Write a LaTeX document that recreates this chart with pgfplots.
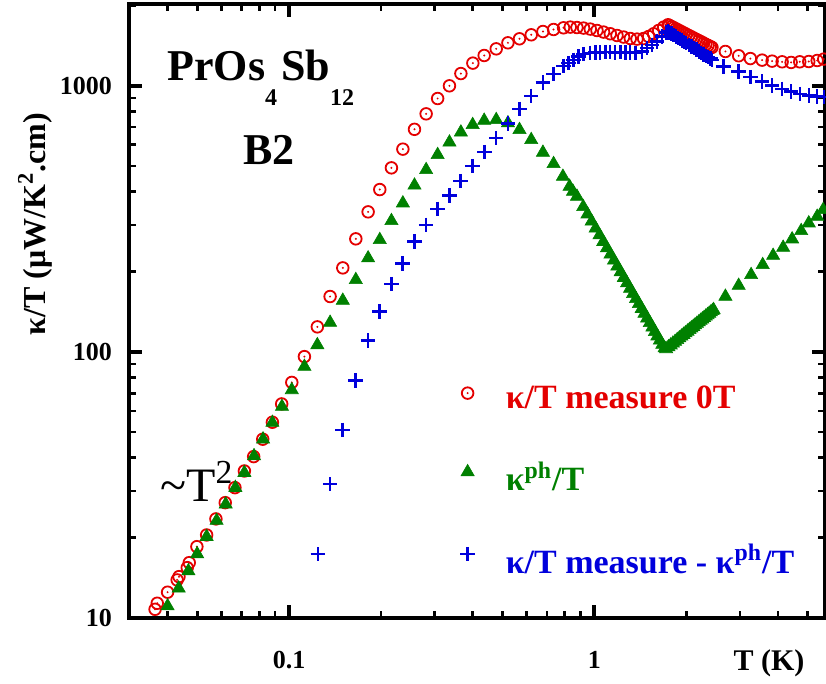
\documentclass[border=0pt]{standalone}
\usepackage{fontspec}
\setmainfont{Liberation Serif}
\usepackage{pgfplots}
\pgfplotsset{compat=1.18}
\definecolor{myred}{RGB}{228,0,0}
\definecolor{mygreen}{RGB}{0,128,0}
\definecolor{myblue}{RGB}{0,0,220}
\pgfdeclareplotmark{odot}{%
  \pgfpathcircle{\pgfpointorigin}{\pgfplotmarksize}\pgfusepathqstroke
  \pgfpathcircle{\pgfpointorigin}{0.55pt}\pgfusepathqfill}
\begin{document}
\begin{tikzpicture}
\begin{axis}[name=ax,
  xmode=log, ymode=log,
  scale only axis, width=348pt, height=307pt,
  xmin=0.0299, xmax=5.7, ymin=10, ymax=2030,
  axis line style={line width=2pt},
  tick align=inside,
  xtick={0.1,1}, xticklabels={0.1,1},
  ytick={10,100,1000}, yticklabels={10,100,1000},
  minor xtick={0.04,0.05,0.06,0.07,0.08,0.09,0.2,0.3,0.4,0.5,0.6,0.7,0.8,0.9,2,3,4,5},
  minor ytick={20,30,40,50,60,70,80,90,200,300,400,500,600,700,800,900,2000},
  major tick length=6.5pt, minor tick length=3.5pt,
  major tick style={line width=2pt, black},
  minor tick style={line width=1.4pt, black},
  /pgf/number format/assume math mode=true,
  ticklabel style={font=\bfseries\fontsize{13}{15}\selectfont},
  xticklabel style={yshift=-13pt},
  yticklabel style={xshift=-5pt},
  xlabel={T (K)},
  xlabel style={at={(rel axis cs:0.9195,-0.0733)}, anchor=center, font=\bfseries\fontsize{15}{18}\selectfont},
  ylabel={κ/T (μW/K\textsuperscript{2}.cm)},
  ylabel style={at={(rel axis cs:-0.135,0.6417)}, anchor=center, font=\bfseries\fontsize{16}{19}\selectfont},
  legend style={at={(rel axis cs:0.467,0.391)}, anchor=north west, draw=none, fill=none,
    font=\bfseries\fontsize{17}{20}\selectfont, row sep=21pt, column sep=13.5pt},
  legend cell align=left,
  legend image post style={yshift=3pt},
]
\addplot[only marks, mark=odot, mark size=2.9pt, mark options={draw=myred, fill=myred, line width=0.9pt}] table {
0.0364 10.78
0.0370 11.36
0.0400 12.50
0.0430 13.90
0.0436 14.30
0.0464 15.46
0.0471 16.14
0.0499 18.54
0.0537 20.51
0.0576 23.57
0.0618 27.13
0.0665 30.89
0.0714 35.69
0.0766 40.41
0.0820 46.97
0.0882 54.41
0.0946 63.76
0.1021 76.8
0.1123 96.0
0.1238 124.2
0.1363 161.5
0.1500 206.9
0.1655 266.0
0.1816 336.0
0.1983 407.5
0.2165 491.7
0.2360 578.1
0.2576 686.3
0.2813 784.7
0.3068 896.0
0.3354 1000
0.3656 1112
0.4001 1217
0.4358 1300
0.4773 1377
0.5213 1451
0.5689 1502
0.6215 1555
0.6788 1600
0.7357 1628
0.7931 1652
0.8343 1662
0.8775 1656
0.9224 1648
0.9703 1634
1.0206 1614
1.0727 1592
1.1284 1569
1.1868 1546
1.2475 1525
1.3122 1506
1.3804 1498
1.4507 1506
1.5068 1532
1.5647 1569
1.6249 1614
1.6875 1662
1.7444 1696
1.76 1687
1.79 1670
1.82 1654
1.85 1638
1.88 1622
1.91 1607
1.94 1592
1.97 1578
2.00 1564
2.04 1546
2.08 1528
2.12 1511
2.16 1494
2.20 1478
2.24 1463
2.28 1447
2.32 1432
2.36 1418
2.40 1404
2.43 1394
2.689 1346
2.972 1297
3.247 1266
3.547 1249
3.825 1238
4.125 1231
4.415 1224
4.711 1231
5.043 1234
5.373 1245
5.647 1260
};
\addlegendentry{\textcolor{myred}{κ/T measure 0T}}
\addplot[only marks, mark=triangle*, mark size=3.8pt, mark options={draw=mygreen, fill=mygreen, line width=0.3pt}] table {
0.0400 11.09
0.0435 12.93
0.0468 15.02
0.0500 17.40
0.0537 20.21
0.0579 23.22
0.0620 26.76
0.0667 30.89
0.0714 35.17
0.0768 40.64
0.0822 46.97
0.0882 54.23
0.0948 62.29
0.1021 71.96
0.1123 88.06
0.1238 106.2
0.1363 128.9
0.1500 156.0
0.1655 186.6
0.1816 225.1
0.1983 263.7
0.2165 310.8
0.2360 362.2
0.2576 422.6
0.2813 483.3
0.3068 550.4
0.3354 613.4
0.3656 668.9
0.3996 713.6
0.4358 740.6
0.4773 745.2
0.5213 724.2
0.5689 683.5
0.6215 626.6
0.6788 561.5
0.7357 509.0
0.7895 456.0
0.8299 418.2
0.8515 400.5
0.8775 383.6
0.92 351.0
0.95 329.3
0.98 309.4
1.01 291.3
1.04 274.7
1.07 259.5
1.10 245.5
1.13 232.6
1.16 220.8
1.19 209.8
1.22 199.6
1.25 190.1
1.28 181.3
1.31 173.1
1.34 165.4
1.37 158.3
1.40 151.6
1.43 145.3
1.46 139.4
1.49 133.8
1.52 128.6
1.55 123.7
1.58 119.0
1.61 114.6
1.64 110.5
1.67 106.5
1.70 103.4
1.72 102.6
1.75 104.3
1.78 106.0
1.81 107.7
1.84 109.3
1.87 111.0
1.90 112.7
1.93 114.4
1.96 116.1
1.99 117.7
2.02 119.4
2.05 121.1
2.08 122.8
2.11 124.4
2.14 126.1
2.17 127.8
2.20 129.4
2.23 131.1
2.26 132.7
2.29 134.4
2.32 136.1
2.35 137.7
2.38 139.4
2.41 141.1
2.44 142.7
2.46 143.8
2.689 161.5
2.972 177.5
3.265 194.8
3.563 212.4
3.854 230.1
4.157 246.7
4.448 265.3
4.763 285.0
5.043 304.7
5.373 322.5
5.622 341.8
};
\addlegendentry{\textcolor{mygreen}{κ\textsuperscript{ph}/T}}
\addplot[only marks, mark=+, mark size=3.6pt, mark options={draw=myblue, line width=1.2pt}] table {
0.1242 17.36
0.1363 31.81
0.1496 50.91
0.1652 78.0
0.1816 110.3
0.1978 141.7
0.2165 179.7
0.2351 214.8
0.2576 259.8
0.2813 300.2
0.3064 344.8
0.3354 386.6
0.3650 438.2
0.3990 499.0
0.4368 563.5
0.4773 636.0
0.5213 721.6
0.5689 819.5
0.6215 917.3
0.6788 1029
0.7357 1109
0.7931 1185
0.8235 1217
0.8553 1253
0.8882 1289
0.9224 1316
0.970 1330
1.008 1336
1.046 1334
1.087 1340
1.128 1338
1.171 1334
1.217 1340
1.264 1336
1.312 1332
1.363 1330
1.434 1346
1.489 1386
1.546 1426
1.605 1467
1.667 1532
1.722 1586
1.744 1600
1.76 1589
1.79 1570
1.82 1551
1.85 1532
1.88 1514
1.91 1497
1.94 1479
1.97 1463
2.00 1447
2.04 1426
2.08 1405
2.12 1386
2.16 1367
2.20 1348
2.24 1331
2.28 1313
2.32 1297
2.36 1280
2.40 1265
2.43 1253
2.654 1182
2.972 1132
3.247 1078
3.547 1038
3.825 1003
4.125 974
4.415 952
4.711 931
5.043 920
5.373 912
5.647 907
};
\addlegendentry{\textcolor{myblue}{κ/T measure - κ\textsuperscript{ph}/T}}
\node[anchor=base west, inner sep=0pt, font=\bfseries\fontsize{22}{26}\selectfont] at (rel axis cs:0.0546,0.876)
  {PrOs\raisebox{-12.5pt}{\fontsize{12}{14}\selectfont 4}\kern2pt Sb\raisebox{-12.5pt}{\fontsize{12}{14}\selectfont 12}};
\node[anchor=base west, inner sep=0pt, font=\bfseries\fontsize{22}{26}\selectfont] at (rel axis cs:0.1638,0.7378) {B2};
\node[anchor=base west, inner sep=0pt, font=\fontsize{24}{28}\selectfont] at (rel axis cs:0.0445,0.189) {\textasciitilde T\textsuperscript{2}};
\end{axis}
\pgfresetboundingbox
\path ([xshift=-64.5pt,yshift=-33pt]ax.south west) rectangle ([xshift=0.5pt,yshift=2pt]ax.north east);
\end{tikzpicture}
\end{document}
